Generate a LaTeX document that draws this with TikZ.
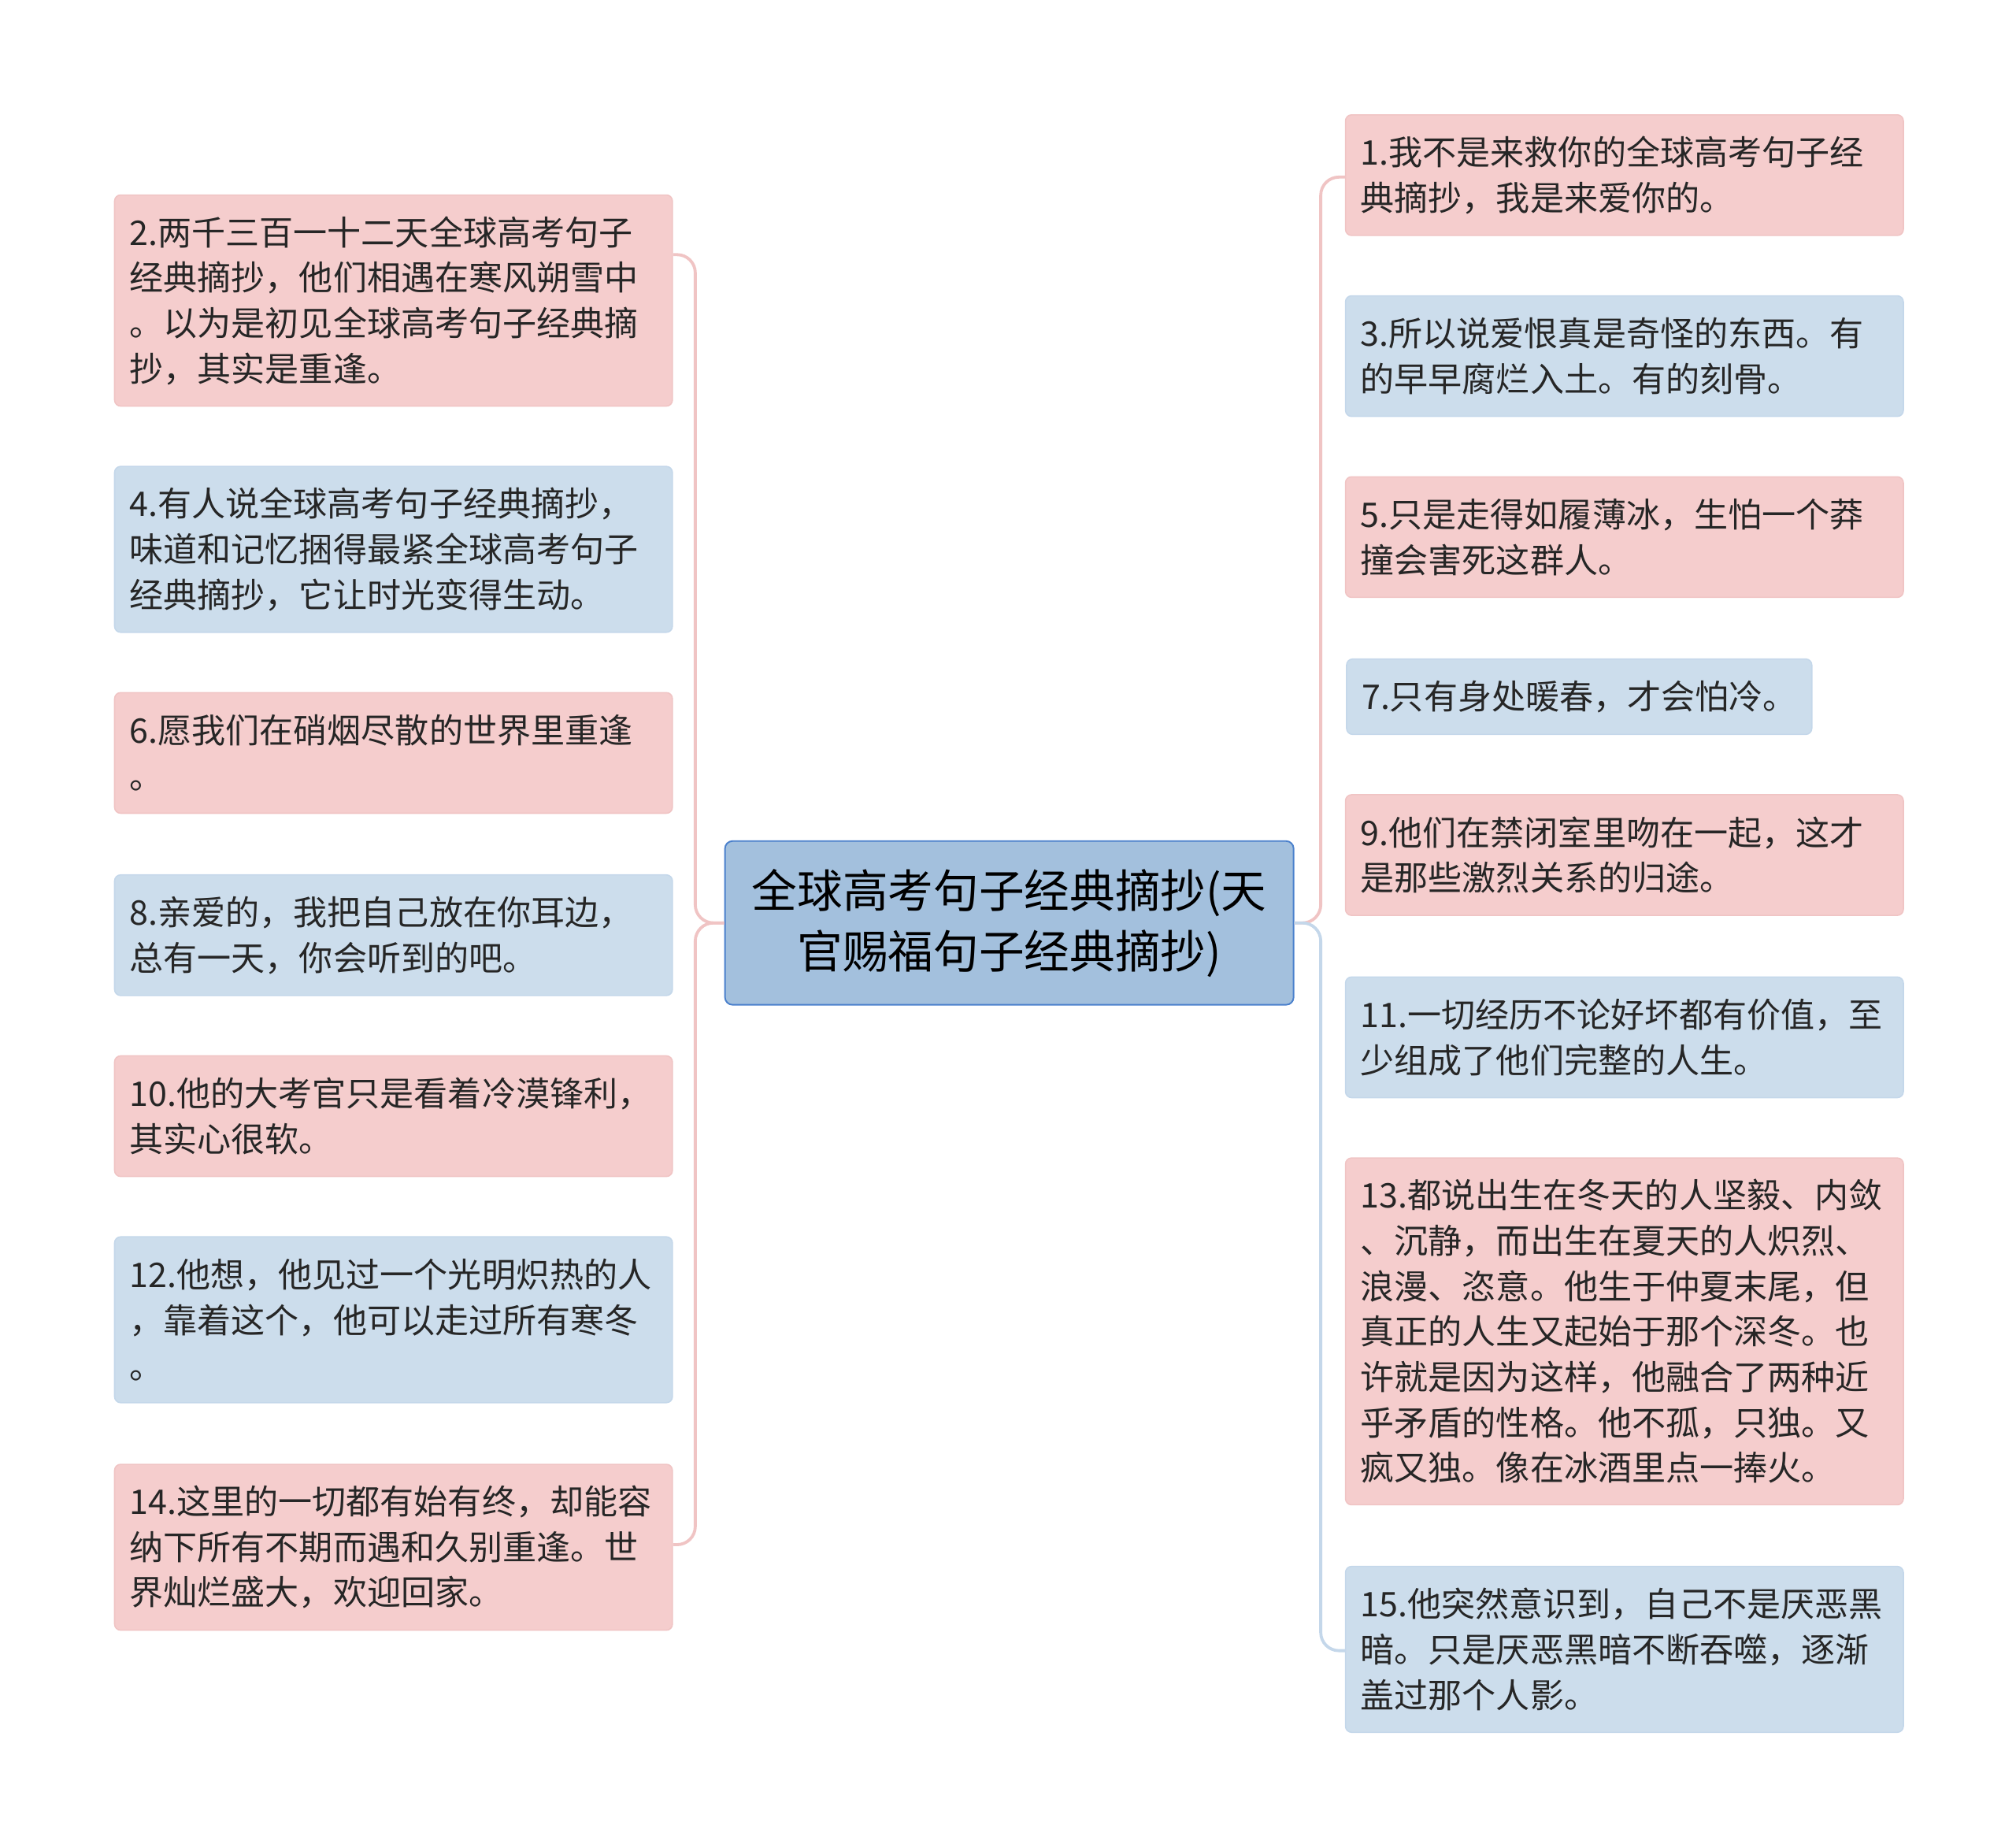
\documentclass[tikz,border=0pt]{standalone}
\usepackage{fontspec}
\setmainfont{Noto Sans CJK SC}
\definecolor{pinkfill}{HTML}{F5CDCD}
\definecolor{pinkline}{HTML}{F0C4C4}
\definecolor{bluefill}{HTML}{CCDDEC}
\definecolor{blueline}{HTML}{C4D7EA}
\definecolor{rootfill}{HTML}{A3C0DD}
\definecolor{rootline}{HTML}{4A80CC}
\tikzset{
  leaf/.style={rectangle, rounded corners=4pt, minimum width=12.95cm, text width=12.25cm,
    align=left, font=\fontsize{22.4pt}{30pt}\selectfont, text=black!85, inner sep=0pt},
  pinkbox/.style={leaf, fill=pinkfill, draw=pinkline, line width=0.8pt},
  bluebox/.style={leaf, fill=bluefill, draw=blueline, line width=0.8pt},
  pinkwire/.style={draw=pinkline, line width=2pt, rounded corners=12pt},
  bluewire/.style={draw=blueline, line width=2pt, rounded corners=12pt},
}
\begin{document}
\begin{tikzpicture}[x=0.03cm, y=-0.03cm]
  \useasboundingbox (0,0) rectangle (1560,1423);
  % centre
  \node[rectangle, rounded corners=5pt, fill=rootfill, draw=rootline, line width=1pt,
    minimum width=13.2cm, minimum height=3.8cm, align=center,
    font=\fontsize{30pt}{40pt}\selectfont] (root) at (781,714)
    {全球高考句子经典摘抄(天\\官赐福句子经典摘抄)};
  % left side
  \node[pinkbox, minimum height=4.9cm] (n2) at (304.5,232.5)
    {2.两千三百一十二天全球高考句子\\经典摘抄，他们相遇在寒风朔雪中\\。以为是初见全球高考句子经典摘\\抄，其实是重逢。};
  \node[bluebox, minimum height=3.85cm] (n4) at (304.5,425)
    {4.有人说全球高考句子经典摘抄，\\味道和记忆捆得最紧全球高考句子\\经典摘抄，它让时光变得生动。};
  \node[pinkbox, minimum height=2.8cm] (n6) at (304.5,582.5)
    {6.愿我们在硝烟尽散的世界里重逢\\。};
  \node[bluebox, minimum height=2.8cm] (n8) at (304.5,723.5)
    {8.亲爱的，我把自己放在你耳边，\\总有一天，你会听到的吧。};
  \node[pinkbox, minimum height=2.8cm] (n10) at (304.5,863.5)
    {10.他的大考官只是看着冷漠锋利，\\其实心很软。};
  \node[bluebox, minimum height=3.85cm] (n12) at (304.5,1021)
    {12.他想，他见过一个光明炽热的人\\，靠着这个，他可以走过所有寒冬\\。};
  \node[pinkbox, minimum height=3.85cm] (n14) at (304.5,1197)
    {14.这里的一切都有始有终，却能容\\纳下所有不期而遇和久别重逢。世\\界灿烂盛大，欢迎回家。};
  % right side
  \node[pinkbox, minimum height=2.8cm] (n1) at (1257,135.5)
    {1.我不是来救你的全球高考句子经\\典摘抄，我是来爱你的。};
  \node[bluebox, minimum height=2.8cm] (n3) at (1257,275.5)
    {3.所以说爱恨真是奇怪的东西。有\\的早早腐烂入土。有的刻骨。};
  \node[pinkbox, minimum height=2.8cm] (n5) at (1257,415.5)
    {5.只是走得如履薄冰，生怕一个莽\\撞会害死这群人。};
  \node[bluebox, minimum height=1.75cm, minimum width=10.8cm, text width=10.1cm] (n7) at (1222,539)
    {7.只有身处暖春，才会怕冷。};
  \node[pinkbox, minimum height=2.8cm] (n9) at (1257,661.5)
    {9.他们在禁闭室里吻在一起，这才\\是那些激烈关系的归途。};
  \node[bluebox, minimum height=2.8cm] (n11) at (1257,802.5)
    {11.一切经历不论好坏都有价值，至\\少组成了他们完整的人生。};
  \node[pinkbox, minimum height=8.05cm] (n13) at (1257,1030)
    {13.都说出生在冬天的人坚毅、内敛\\、沉静，而出生在夏天的人炽烈、\\浪漫、恣意。他生于仲夏末尾，但\\真正的人生又起始于那个深冬。也\\许就是因为这样，他融合了两种近\\乎矛盾的性格。他不孤，只独。又\\疯又独。像在冰酒里点一捧火。};
  \node[bluebox, minimum height=3.85cm] (n15) at (1257,1276)
    {15.他突然意识到，自己不是厌恶黑\\暗。只是厌恶黑暗不断吞噬，逐渐\\盖过那个人影。};
  % braces
  \coordinate (ltop) at (521,197);
  \coordinate (lbot) at (521,1195);
  \coordinate (rtop) at (1041,137);
  \coordinate (rbot) at (1041,1277);
  \draw[pinkwire] (root.west) -- (538,714) -- (538,197) -- (ltop);
  \draw[pinkwire] (root.west) -- (538,714) -- (538,1195) -- (lbot);
  \draw[pinkwire] (root.east) -- (1022,714) -- (1022,137) -- (rtop);
  \draw[bluewire] (root.east) -- (1022,714) -- (1022,1277) -- (rbot);
\end{tikzpicture}
\end{document}
